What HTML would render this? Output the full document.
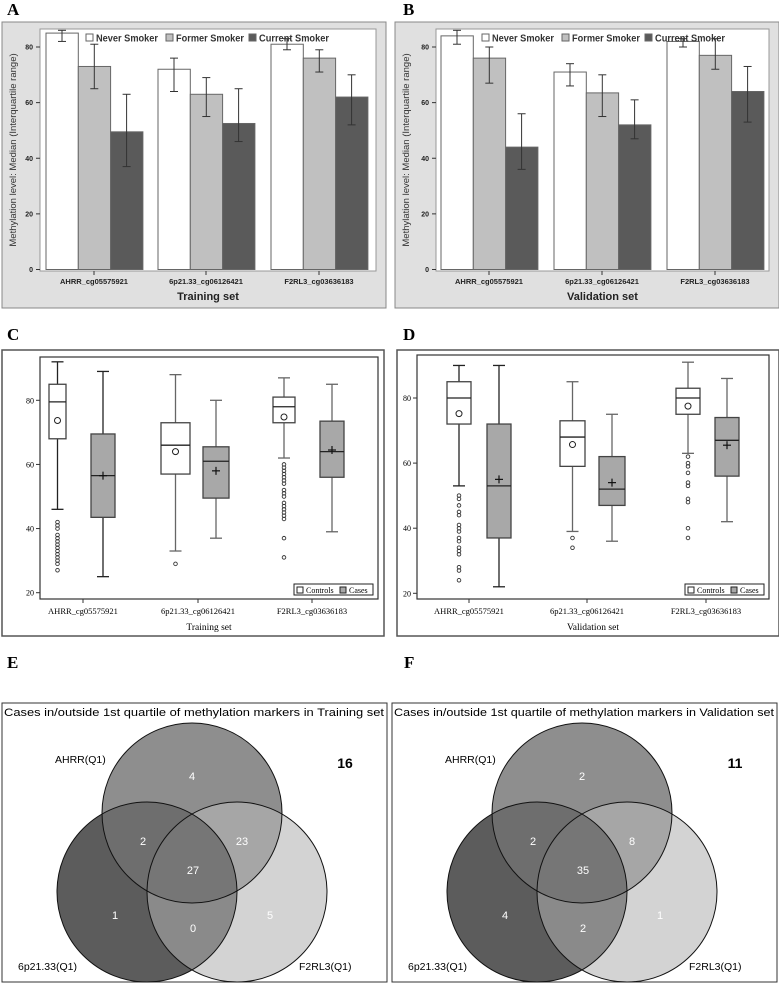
<!DOCTYPE html>
<html><head><meta charset="utf-8"><style>
html,body{margin:0;padding:0;background:#fff;}
svg{display:block;}
</style></head><body>
<svg id="fig" width="779" height="991" viewBox="0 0 779 991" xmlns="http://www.w3.org/2000/svg" font-family="Liberation Sans, sans-serif">
<defs>
<clipPath id="cTopE"><circle cx="192" cy="813" r="90"/></clipPath>
<clipPath id="cLeftE"><circle cx="147" cy="892" r="90"/></clipPath>
<clipPath id="cRightE"><circle cx="237" cy="892" r="90"/></clipPath>
<clipPath id="cTopF"><circle cx="582" cy="813" r="90"/></clipPath>
<clipPath id="cLeftF"><circle cx="537" cy="892" r="90"/></clipPath>
<clipPath id="cRightF"><circle cx="627" cy="892" r="90"/></clipPath>
</defs>
</svg>
<script>
const categories = ["AHRR_cg05575921","6p21.33_cg06126421","F2RL3_cg03636183"];
const smokerGroups = ["Never Smoker","Former Smoker","Current Smoker"];
// Panel A (training) medians and IQR
const trainMedian = [[85,73,49.5],[72,63,52.5],[81,76,62]];
const trainQ1 = [[82,65,37],[64,55,46],[79,71,52]];
const trainQ3 = [[86,81,63],[76,69,65],[83,79,70]];
// Panel B (validation)
const validMedian = [[84,76,44],[71,63.5,52],[82,77,64]];
const validQ1 = [[81,67,36],[66,55,47],[80,72,53]];
const validQ3 = [[86,80,56],[74,70,61],[83,83,73]];
const barTicks = [0,20,40,60,80];
// Panel C boxplots: [ctrl, case] per category: [low,q1,med,q3,high,mean]
const trainBoxes = [[[46,68,79.5,85,92,73.7],[25,43.5,56.5,69.5,89,56.5]],
                    [[33,57,66,73,88,64],[37,49.5,61,65.5,80,58]],
                    [[62,73,78,81,87,74.8],[39,56,64,73.5,85,64.5]]];
const trainOutliers = [[42,41,40,38,37,36,35,34,33,32,31,30,29,27],[29],[60,59,58,57,56,55,54,52,51,50,48,47,46,45,44,43,37,31]];
const validBoxes = [[[53,72,80,85,90,75.2],[22,37,53,72,90,55]],
                    [[39,59,68,73,85,65.7],[36,47,52,62,75,54]],
                    [[63,75,80,83,91,77.5],[42,56,67,74,86,65.5]]];
const validOutliers = [[50,49,47,45,44,41,40,39,37,36,34,33,32,28,27,24],[37,34],[62,60,59,57,54,53,49,48,40,37]];
const boxTicks = [20,40,60,80];
// Venn counts: top, left, right, top&left, top&right, left&right, all, outside
const vennTrain = [4,1,5,2,23,0,27,16];
const vennValid = [2,4,1,2,8,2,35,11];

const NS='http://www.w3.org/2000/svg';
const svg=document.getElementById('fig');
function mk(tag,attrs,parent,text){const e=document.createElementNS(NS,tag);for(const k in attrs)e.setAttribute(k,attrs[k]);if(text!==undefined)e.textContent=text;(parent||svg).appendChild(e);return e;}

function panelLabel(t,x,y){const e=mk('text',{x:x,y:y,'font-family':'Liberation Serif, serif','font-weight':'bold','font-size':17},svg,t);

}

function barPanel(id,ox,L,R,med,q1,q3,xtitle,groupStart){
  const g=mk('g',{});
  
  
  const bg=mk('rect',{x:ox,y:22,width:384,height:286,fill:'#e0e0e0',stroke:'#888','stroke-width':1},g);
  
  
  const T=29,B=271;
  mk('rect',{x:L,y:T,width:R-L,height:B-T,fill:'#fff',stroke:'#999','stroke-width':1},g);
  const y=v=>269.5-v*(222.5/80);
  const cols=['#ffffff','#c0c0c0','#5a5a5a'];
  for(let c=0;c<3;c++){
    for(let s=0;s<3;s++){
      const x=groupStart[c]+s*32.3;
      const r=mk('rect',{x:x,y:y(med[c][s]),width:32.3,height:y(0)-y(med[c][s]),fill:cols[s],stroke:'#666','stroke-width':1},g);
      
      
      const cx=x+16;
      mk('line',{x1:cx,x2:cx,y1:y(q1[c][s]),y2:y(q3[c][s]),stroke:'#333','stroke-width':1},g);
      mk('line',{x1:cx-4,x2:cx+4,y1:y(q1[c][s]),y2:y(q1[c][s]),stroke:'#333','stroke-width':1},g);
      mk('line',{x1:cx-4,x2:cx+4,y1:y(q3[c][s]),y2:y(q3[c][s]),stroke:'#333','stroke-width':1},g);
    }
    const tx=groupStart[c]+48;
    mk('line',{x1:tx,x2:tx,y1:B,y2:B+4,stroke:'#333'},g);
    const lab=mk('text',{x:tx,y:284,'font-size':7.5,'font-weight':'bold','text-anchor':'middle',fill:'#222'},g,categories[c]);
    
    
  }
  barTicks.forEach(t=>{mk('line',{x1:L-4,x2:L,y1:y(t),y2:y(t),stroke:'#333'},g);
    mk('text',{x:L-7,y:y(t)+2.5,'font-size':7,'font-weight':'bold','text-anchor':'end',fill:'#222'},g,t);});
  const yt=mk('text',{x:0,y:0,'font-size':9.5,fill:'#333','text-anchor':'middle',transform:`translate(${ox+14},150) rotate(-90)`},g,'Methylation level: Median (Interquartile range)');
  
  
  const xt=mk('text',{x:(L+R)/2,y:300,'font-size':11,'font-weight':'bold','text-anchor':'middle',fill:'#222'},g,xtitle);
  
  
  // legend
  const lg=mk('g',{},g);
  
  
  const lx=L+46;const offs=[0,80,163];const tl=[62,68,70];
  smokerGroups.forEach((s,i)=>{
    mk('rect',{x:lx+offs[i],y:34,width:7,height:7,fill:cols[i],stroke:'#666'},lg);
    const t=mk('text',{x:lx+offs[i]+10,y:41.5,'font-size':10,'font-weight':'bold',fill:'#333',textLength:tl[i],lengthAdjust:'spacingAndGlyphs'},lg,s);
    
    
  });
}

function boxPanel(id,ox,L,R,T,B,y80,y20,boxes,outliers,pos,ticksX,xtitle){
  const g=mk('g',{});
  
  
  mk('rect',{x:ox,y:350,width:382,height:286,fill:'#fff',stroke:'#555','stroke-width':1.5},g);
  mk('rect',{x:L,y:T,width:R-L,height:B-T,fill:'none',stroke:'#333','stroke-width':1.2},g);
  const y=v=>y20+(v-20)*(y80-y20)/60;
  for(let c=0;c<3;c++){
    for(let k=0;k<2;k++){
      const d=boxes[c][k];const [x0,x1]=pos[c][k];const cx=(x0+x1)/2;
      const col=c===0?'#222':'#666';
      const bg=mk('g',{},g);
      
      
      mk('line',{x1:cx,x2:cx,y1:y(d[0]),y2:y(d[4]),stroke:col,'stroke-width':1.3},bg);
      mk('line',{x1:cx-6,x2:cx+6,y1:y(d[0]),y2:y(d[0]),stroke:col,'stroke-width':1.3},bg);
      mk('line',{x1:cx-6,x2:cx+6,y1:y(d[4]),y2:y(d[4]),stroke:col,'stroke-width':1.3},bg);
      mk('rect',{x:x0,y:y(d[3]),width:x1-x0,height:y(d[1])-y(d[3]),fill:k?'#a8a8a8':'#fff',stroke:'#444','stroke-width':1.3},bg);
      mk('line',{x1:x0,x2:x1,y1:y(d[2]),y2:y(d[2]),stroke:'#222','stroke-width':1.3},bg);
      if(k===0) mk('circle',{cx:cx,cy:y(d[5]),r:3,fill:'none',stroke:'#222','stroke-width':1},bg);
      else {mk('line',{x1:cx-4,x2:cx+4,y1:y(d[5]),y2:y(d[5]),stroke:'#111','stroke-width':1.2},bg);
            mk('line',{x1:cx,x2:cx,y1:y(d[5])-4,y2:y(d[5])+4,stroke:'#111','stroke-width':1.2},bg);}
      if(k===0) outliers[c].forEach(o=>{const p=mk('circle',{cx:cx,cy:y(o),r:1.8,fill:'none',stroke:'#333','stroke-width':0.9},bg);
        
        });
    }
    mk('line',{x1:ticksX[c],x2:ticksX[c],y1:B,y2:B+4,stroke:'#333'},g);
    const lab=mk('text',{x:ticksX[c],y:614,'font-family':'Liberation Serif, serif','font-size':8.5,'text-anchor':'middle'},g,categories[c]);
    
    
  }
  boxTicks.forEach(t=>{mk('line',{x1:L-4,x2:L,y1:y(t),y2:y(t),stroke:'#333'},g);
    mk('text',{x:L-6,y:y(t)+3,'font-family':'Liberation Serif, serif','font-size':8,'text-anchor':'end'},g,t);});
  const xt=mk('text',{x:(L+R)/2,y:630,'font-family':'Liberation Serif, serif','font-size':9.5,'text-anchor':'middle'},g,xtitle);
  
  
  const lg=mk('g',{},g);
  
  
  const lx=R-84,ly=B-15;
  mk('rect',{x:lx,y:ly,width:79,height:11,fill:'#fff',stroke:'#222'},lg);
  mk('rect',{x:lx+3,y:ly+3,width:6,height:6,fill:'#fff',stroke:'#222'},lg);
  mk('text',{x:lx+12,y:ly+9,'font-family':'Liberation Serif, serif','font-size':8},lg,'Controls');
  mk('rect',{x:lx+46,y:ly+3,width:6,height:6,fill:'#a8a8a8',stroke:'#222'},lg);
  mk('text',{x:lx+55,y:ly+9,'font-family':'Liberation Serif, serif','font-size':8},lg,'Cases');
}

function vennPanel(id,ox,counts,title,sfx){
  const g=mk('g',{});
  
  
  mk('rect',{x:ox+2,y:703,width:385,height:279,fill:'#fff',stroke:'#333','stroke-width':1},g);
  const tt=mk('text',{x:ox+4,y:716,'font-size':11,textLength:380,lengthAdjust:'spacingAndGlyphs'},g,title);
  
  
  const T={cx:ox+192,cy:813},Lc={cx:ox+147,cy:892},Rc={cx:ox+237,cy:892};
  mk('circle',{cx:T.cx,cy:T.cy,r:90,fill:'#8e8e8e'},g);
  mk('circle',{cx:Lc.cx,cy:Lc.cy,r:90,fill:'#5c5c5c'},g);
  mk('circle',{cx:Rc.cx,cy:Rc.cy,r:90,fill:'#d3d3d3'},g);
  mk('circle',{cx:Lc.cx,cy:Lc.cy,r:90,fill:'#6e6e6e','clip-path':`url(#cTop${sfx})`},g);
  mk('circle',{cx:Rc.cx,cy:Rc.cy,r:90,fill:'#a6a6a6','clip-path':`url(#cTop${sfx})`},g);
  mk('circle',{cx:Rc.cx,cy:Rc.cy,r:90,fill:'#8a8a8a','clip-path':`url(#cLeft${sfx})`},g);
  const gi=mk('g',{'clip-path':`url(#cTop${sfx})`},g);
  mk('circle',{cx:Rc.cx,cy:Rc.cy,r:90,fill:'#767676','clip-path':`url(#cLeft${sfx})`},gi);
  [T,Lc,Rc].forEach(c=>mk('circle',{cx:c.cx,cy:c.cy,r:90,fill:'none',stroke:'#111','stroke-width':1},g));
  const pos=[[192,780],[115,919],[270,919],[143,845],[242,845],[193,932],[193,874]];
  pos.forEach((p,i)=>{const t=mk('text',{x:ox+p[0],y:p[1],'font-size':11,fill:'#fff','text-anchor':'middle'},g,counts[i]);
    
    });
  const o=mk('text',{x:ox+345,y:768,'font-size':14,'font-weight':'bold','text-anchor':'middle'},g,counts[7]);
  
  
  mk('text',{x:ox+55,y:763,'font-size':10.5},g,'AHRR(Q1)');
  mk('text',{x:ox+18,y:970,'font-size':10.5},g,'6p21.33(Q1)');
  mk('text',{x:ox+299,y:970,'font-size':10.5},g,'F2RL3(Q1)');
}

panelLabel('A',7,15);panelLabel('B',403,15);
barPanel('a',2,40,376,trainMedian,trainQ1,trainQ3,'Training set',[46,158,271]);
barPanel('b',395,436,769,validMedian,validQ1,validQ3,'Validation set',[441,554,667]);
panelLabel('C',7,340);panelLabel('D',403,340);
boxPanel('c',2,40,378,357,599,400.3,592.7,trainBoxes,trainOutliers,
  [[[49,66],[91,115]],[[161,190],[203,229]],[[273,295],[320,344]]],[83,198,312],'Training set');
boxPanel('d',397,417,769,355,599,398,593.3,validBoxes,validOutliers,
  [[[447,471],[487,511]],[[560,585],[599,625]],[[676,700],[715,739]]],[469,587,706],'Validation set');
panelLabel('E',7,668);panelLabel('F',404,668);
vennPanel('e',0,vennTrain,'Cases in/outside 1st quartile of methylation markers in Training set','E');
vennPanel('f',390,vennValid,'Cases in/outside 1st quartile of methylation markers in Validation set','F');
</script>
</body></html>
